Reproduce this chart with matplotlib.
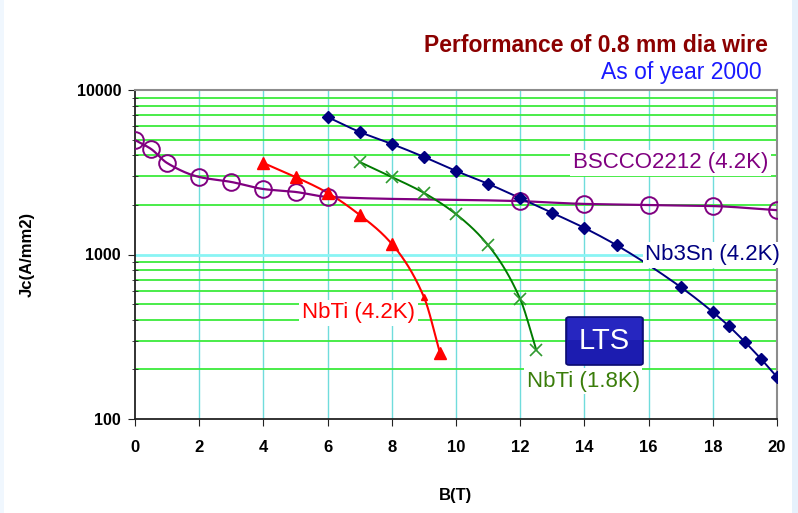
import numpy as np
import matplotlib
matplotlib.use("Agg")
import matplotlib.pyplot as plt
from matplotlib.patches import FancyBboxPatch, Rectangle

plt.rcParams['font.family'] = ['Liberation Sans', 'DejaVu Sans']

# Critical current density Jc (A/mm2) versus field B (T)
bscco_b = [0, 0.5, 1, 2, 3, 4, 5, 6, 12, 14, 16, 18, 20]
bscco_jc = [4960, 4380, 3600, 2960, 2760, 2500, 2400, 2240, 2110, 2030, 2000, 1970, 1860]

nb3sn_b = [6, 7, 8, 9, 10, 11, 12, 13, 14, 15, 17, 18, 18.5, 19, 19.5, 20]
nb3sn_jc = [6850, 5560, 4700, 3920, 3220, 2690, 2200, 1790, 1450, 1140, 634, 447, 367, 294, 232, 180]

nbti42_b = [4, 5, 6, 7, 8, 9, 9.5]
nbti42_jc = [3600, 2960, 2370, 1740, 1160, 552, 252]

nbti18_b = [7, 8, 9, 10, 11, 12, 12.5]
nbti18_jc = [3650, 2960, 2370, 1760, 1140, 536, 263]

x_ticks = [0, 2, 4, 6, 8, 10, 12, 14, 16, 18, 20]
y_ticks = [100, 1000, 10000]


def smooth(xs, ys, n=30):
    """Monotone cubic (Fritsch-Carlson) curve through the points in (B, log Jc)."""
    x = np.asarray(xs, float)
    y = np.log10(np.asarray(ys, float))
    k = len(x)
    h = np.diff(x)
    d = np.diff(y) / h
    m = np.empty(k)
    m[0], m[-1] = d[0], d[-1]
    for i in range(1, k - 1):
        if d[i - 1] * d[i] <= 0:
            m[i] = 0.0
        else:
            w1 = 2 * h[i] + h[i - 1]
            w2 = h[i] + 2 * h[i - 1]
            m[i] = (w1 + w2) / (w1 / d[i - 1] + w2 / d[i])
    ox, oy = [], []
    t = np.linspace(0, 1, n)
    h00 = 2 * t ** 3 - 3 * t ** 2 + 1
    h10 = t ** 3 - 2 * t ** 2 + t
    h01 = -2 * t ** 3 + 3 * t ** 2
    h11 = t ** 3 - t ** 2
    for i in range(k - 1):
        ox.extend(x[i] + t * h[i])
        oy.extend(h00 * y[i] + h10 * h[i] * m[i] + h01 * y[i + 1] + h11 * h[i] * m[i + 1])
    return np.array(ox), 10 ** np.array(oy)


fig = plt.figure(figsize=(7.98, 5.13), dpi=100)
fig.patch.set_facecolor('white')
# pale side bands of the slide background
fig.patches.append(Rectangle((792 / 798, 0), 6 / 798, 1, transform=fig.transFigure,
                             facecolor='#e6f1fc', edgecolor='none', zorder=0))
fig.patches.append(Rectangle((0, 0), 4 / 798, 1, transform=fig.transFigure,
                             facecolor='#f0f7fe', edgecolor='none', zorder=0))

ax = fig.add_axes([135 / 798, 1 - 419 / 513, 642 / 798, 329 / 513])
ax.set_yscale('log')
ax.set_xlim(0, 20)
ax.set_ylim(100, 10000)

# grid: cyan verticals, green minor horizontals, cyan decade lines
for xv in x_ticks[1:-1]:
    ax.axvline(xv, color='#70dcdc', lw=1.0, zorder=1)
for dec in (100, 1000):
    for m in range(2, 10):
        ax.axhline(dec * m, color='#3cea3c', lw=1.3, zorder=1)
ax.axhline(1000, color='#8af4f4', lw=2.0, zorder=1)

bx, by = smooth(bscco_b, bscco_jc)
ax.plot(bx, by, color='#800080', lw=1.6, zorder=3)
ax.plot(bscco_b, bscco_jc, 'o', ms=12, mfc='none', mec='#800080', mew=1.4, zorder=4)

nx, ny = smooth(nb3sn_b, nb3sn_jc)
ax.plot(nx, ny, color='#000080', lw=1.4, zorder=3)
ax.plot(nb3sn_b, nb3sn_jc, 'D', ms=6, color='#000080', zorder=4)

rx, ry = smooth(nbti42_b, nbti42_jc)
ax.plot(rx, ry, color='#ff0000', lw=1.5, zorder=3)
big = [i for i, b in enumerate(nbti42_b) if b != 9]
ax.plot([nbti42_b[i] for i in big], [nbti42_jc[i] for i in big],
        '^', ms=9, color='#ff0000', zorder=4)
i9 = nbti42_b.index(9)
ax.plot([nbti42_b[i9]], [nbti42_jc[i9]], '^', ms=4, color='#ff0000', zorder=4)

gx, gy = smooth(nbti18_b, nbti18_jc)
ax.plot(gx, gy, color='#007a00', lw=1.4, zorder=3)
ax.plot(nbti18_b, nbti18_jc, 'x', ms=8, mew=1.2, color='#2e9a2e', zorder=4)

# spines
for side in ('top', 'right'):
    ax.spines[side].set_color('#8c8c8c')
    ax.spines[side].set_linewidth(1.5)
for side in ('left', 'bottom'):
    ax.spines[side].set_color('#222222')
    ax.spines[side].set_linewidth(1.3)

ax.set_xticks(x_ticks)
ax.set_xticklabels([str(v) for v in x_ticks], fontsize=12, fontweight='bold')
ax.set_yticks(y_ticks)
ax.set_yticklabels([str(v) for v in y_ticks], fontsize=11.5, fontweight='bold')
ax.yaxis.set_minor_locator(matplotlib.ticker.LogLocator(base=10, subs=np.arange(2, 10)))
ax.yaxis.set_minor_formatter(matplotlib.ticker.NullFormatter())
ax.tick_params(axis='both', which='major', length=5, direction='out', color='#222222')
ax.tick_params(axis='y', which='major', pad=5)
ax.tick_params(axis='y', which='minor', length=5, direction='inout', color='#222222')
ax.tick_params(axis='x', pad=10)

ax.set_xlabel('B(T)', fontsize=12, fontweight='bold', labelpad=24)
ax.set_ylabel('Jc(A/mm2)', fontsize=12, fontweight='bold', labelpad=30)

# series labels
lab = dict(fontsize=16, zorder=6, va='center',
           bbox=dict(facecolor='white', edgecolor='none', pad=2))
ax.text(13.65, 3600, 'BSCCO2212 (4.2K)', color='#800080', **lab)
ax.text(15.9, 994, 'Nb3Sn (4.2K)', color='#000080', **lab)
ax.text(5.2, 441, 'NbTi (4.2K)', color='#ff0000', **lab)
ax.text(12.2, 170, 'NbTi (1.8K)', color='#3a7d0a', **lab)

# LTS badge
badge = FancyBboxPatch((566 / 798, 1 - 365 / 513), 77 / 798, 48 / 513,
                       boxstyle='round,pad=0,rounding_size=0.004',
                       transform=fig.transFigure, facecolor='#1c1cb0',
                       edgecolor='#0a0a70', lw=1.2, zorder=7)
fig.patches.append(badge)
fig.patches.append(Rectangle((568 / 798, 1 - 340 / 513), 73 / 798, 22 / 513,
                             transform=fig.transFigure, facecolor='#3030d0',
                             edgecolor='none', alpha=0.5, zorder=7))
fig.text(604.5 / 798, 1 - 341 / 513, 'LTS', color='white', fontsize=21,
         ha='center', va='center', zorder=8)

fig.text(768 / 798, 1 - 46 / 513, 'Performance of 0.8 mm dia wire', color='#8b0000',
         fontsize=16.5, fontweight='bold', ha='right', va='center')
fig.text(762 / 798, 1 - 72 / 513, 'As of year 2000', color='#1a1aff',
         fontsize=16.5, ha='right', va='center')

fig.savefig('out.png', dpi=100)
